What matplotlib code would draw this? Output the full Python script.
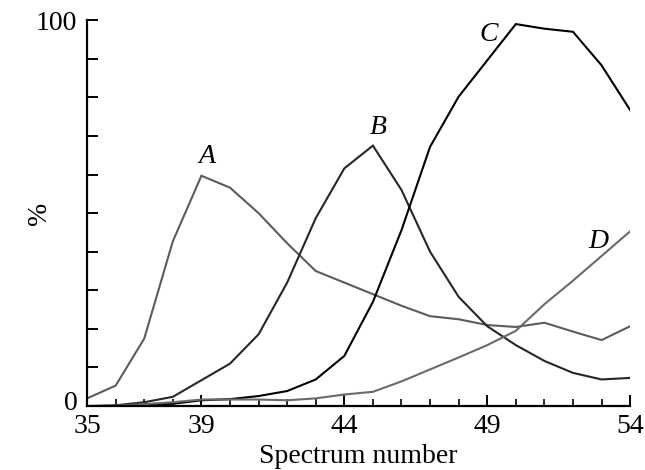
import numpy as np
import matplotlib
matplotlib.use('Agg')
from matplotlib import pyplot as plt
from matplotlib.transforms import ScaledTranslation

spectrum = list(range(35, 55))
curve_a = [2.0, 5.3, 17.5, 42.7, 59.7, 56.6, 50.0, 42.2, 35.0, 32.0, 29.0, 26.0, 23.3,
           22.5, 21.0, 20.5, 21.6, 19.3, 17.1, 20.7]
curve_b = [0.0, 0.2, 1.0, 2.4, 6.7, 11.0, 18.6, 32.0, 48.7, 61.6, 67.5, 56.0, 40.0,
           28.3, 20.7, 15.8, 11.7, 8.6, 6.9, 7.3]
curve_c = [0.0, 0.0, 0.3, 0.6, 1.5, 1.8, 2.6, 3.9, 6.9, 13.0, 27.0, 45.6, 67.2,
           80.2, 89.6, 99.0, 97.8, 97.0, 88.3, 76.7]
curve_d = [0.0, 0.1, 0.5, 1.0, 1.7, 1.7, 1.7, 1.5, 2.0, 3.0, 3.7, 6.4, 9.5,
           12.6, 15.8, 19.5, 26.4, 32.5, 38.9, 45.3]
names = ['A', 'B', 'C', 'D']
label_pos = [(39.2, 61.5), (45.2, 69.0), (49.05, 93.0), (52.9, 39.5)]

plt.rcParams['font.family'] = ['Liberation Serif', 'DejaVu Serif']

fig = plt.figure(figsize=(6.45, 4.70), dpi=100)
ax = fig.add_axes([0.135, 0.136, 0.842, 0.821])

colors = ['#5c5c5c', '#262626', '#000000', '#6a6a6a']
for ys, c in zip([curve_a, curve_b, curve_c, curve_d], colors):
    ax.plot(spectrum, ys, color=c, lw=1.5, solid_joinstyle='miter')

for name, (x, y) in zip(names, label_pos):
    ax.text(x, y, name, fontsize=20, style='italic', ha='center', va='bottom')

ax.set_xlim(35, 54)
ax.set_ylim(0, 100)

ax.spines['top'].set_visible(False)
ax.spines['right'].set_visible(False)
ax.spines['left'].set_linewidth(1.6)
ax.spines['bottom'].set_linewidth(1.6)

ax.set_xticks([35, 39, 44, 49, 54])
ax.set_xticks(spectrum, minor=True)
ax.set_yticks(range(0, 101, 10))
ax.set_yticklabels(['0'] + [''] * 9 + ['100'])

ax.tick_params(axis='both', which='major', direction='in', length=8, width=1.4,
               labelsize=20, pad=5)
ax.tick_params(axis='x', which='minor', direction='in', length=5, width=1.2)
ax.tick_params(axis='x', which='major', pad=6)
ax.tick_params(axis='y', which='major', pad=7)

# nudge the "0" up a bit so it clears the "35"
zero_lbl = ax.get_yticklabels()[0]
zero_lbl.set_transform(zero_lbl.get_transform() + ScaledTranslation(0, 4 / 72, fig.dpi_scale_trans))

ax.set_xlabel('Spectrum number', fontsize=20, labelpad=3)
ax.set_ylabel('%', fontsize=20)
ax.yaxis.set_label_coords(-0.065, 0.5)

fig.savefig('out.png', dpi=100)
